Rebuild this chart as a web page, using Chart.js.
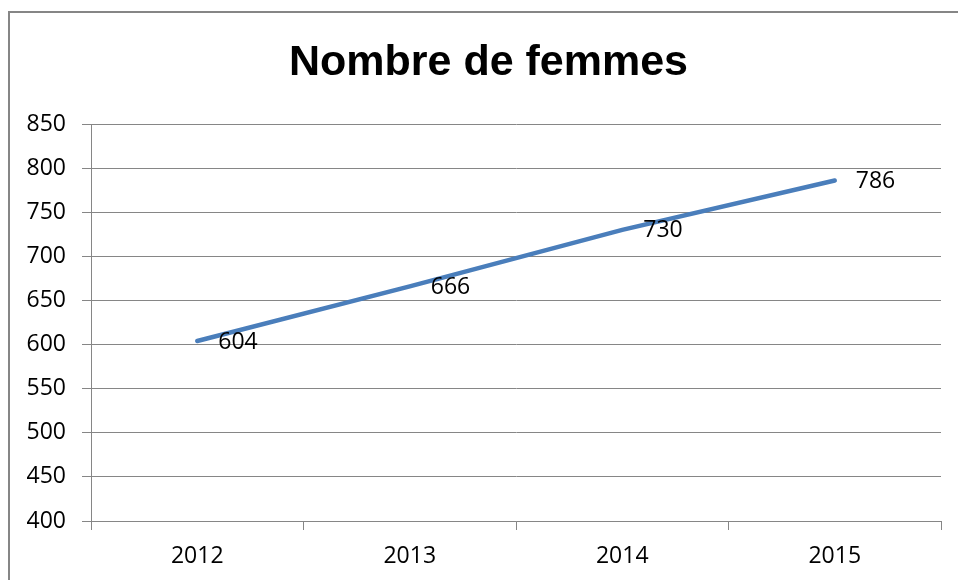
<!DOCTYPE html>
<html>
<head>
<meta charset="utf-8">
<script src="https://cdn.jsdelivr.net/npm/chart.js@4/dist/chart.umd.min.js"></script>
<style>
  html, body { margin: 0; padding: 0; background: #fff; }
  #wrap { width: 958px; height: 580px; position: relative; }
</style>
</head>
<body>
<div id="wrap"><canvas id="femmesChart" width="958" height="580"></canvas></div>
<script>
// données
const annees = ['2012', '2013', '2014', '2015'];
const nombreFemmes = [604, 666, 730, 786];
const axeY = { min: 400, max: 850, pas: 50 };

const police = "'Open Sans', 'Liberation Sans', sans-serif";
const policeTitre = "'Liberation Sans', Arial, sans-serif";
const gris = '#868686';

// cadre gris autour du graphique
const cadre = {
    id: 'cadre',
    beforeDraw(chart) {
        const ctx = chart.ctx;
        ctx.save();
        ctx.strokeStyle = gris;
        ctx.lineWidth = 2;
        ctx.strokeRect(9, 12, 1200, 1200);
        ctx.restore();
    }
};

// recentre le titre sur le cadre (comme dans l'original)
const decalageTitre = {
    id: 'decalageTitre',
    afterLayout(chart) {
        if (chart.titleBlock) chart.titleBlock.left += 36;
    }
};

// étiquettes de valeur à droite de chaque point
const etiquettes = {
    id: 'etiquettes',
    afterDatasetsDraw(chart) {
        const ctx = chart.ctx;
        const meta = chart.getDatasetMeta(0);
        ctx.save();
        ctx.font = '23px ' + police;
        ctx.fillStyle = '#000';
        ctx.textAlign = 'left';
        ctx.textBaseline = 'middle';
        meta.data.forEach((pt, i) => {
            ctx.fillText(String(nombreFemmes[i]), pt.x + 21, pt.y + 1);
        });
        ctx.restore();
    }
};

new Chart(document.getElementById('femmesChart'), {
    type: 'line',
    data: {
        labels: annees,
        datasets: [{
            label: 'Nombre de femmes',
            data: nombreFemmes,
            borderColor: '#4a7ebb',
            borderWidth: 4.5,
            borderCapStyle: 'round',
            pointRadius: 0,
            tension: 0,
            fill: false
        }]
    },
    options: {
        responsive: false,
        animation: false,
        devicePixelRatio: 1,
        layout: { padding: { left: 0, right: 17, top: 0, bottom: 0 } },
        plugins: {
            legend: { display: false },
            tooltip: { enabled: false },
            title: {
                display: true,
                text: 'Nombre de femmes',
                color: '#000',
                font: { family: policeTitre, size: 43, weight: 'bold', lineHeight: 1.2 },
                padding: { top: 37, bottom: 35.4 }
            }
        },
        scales: {
            x: {
                offset: true,
                grid: {
                    offset: true,
                    drawOnChartArea: false,
                    drawTicks: true,
                    tickLength: 9,
                    color: gris
                },
                border: { color: gris, width: 1 },
                ticks: {
                    color: '#000',
                    padding: 13,
                    maxRotation: 0,
                    font: { family: police, size: 23 }
                },
                afterFit(scale) { scale.height = 59; }
            },
            y: {
                min: axeY.min,
                max: axeY.max,
                grid: { color: gris, tickLength: 9 },
                border: { color: gris, width: 1 },
                ticks: {
                    stepSize: axeY.pas,
                    color: '#000',
                    padding: 16,
                    font: { family: police, size: 23 }
                },
                afterFit(scale) { scale.width = 91; }
            }
        }
    },
    plugins: [cadre, decalageTitre, etiquettes]
});
</script>
</body>
</html>
